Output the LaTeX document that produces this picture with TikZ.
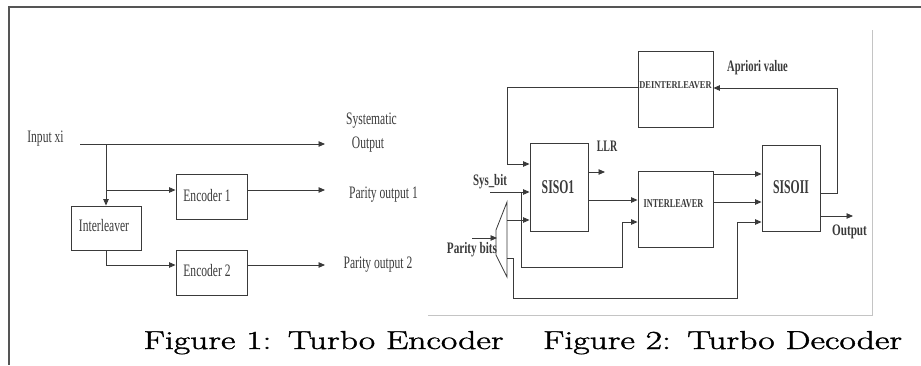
\documentclass[tikz,border=0pt]{standalone}
\usepackage{fontspec}
\usepackage{graphicx}
\usetikzlibrary{arrows.meta}
\newfontfamily\tnr{Liberation Serif}
\newfontfamily\capfont[FakeBold=1.3]{Latin Modern Roman}
\newcommand{\sx}[2]{\scalebox{#1}[1]{#2}}
\definecolor{ink}{HTML}{3A3A3A}
\definecolor{frame}{HTML}{555555}
\definecolor{lightframe}{HTML}{C4C4C4}
\tikzset{
  wire/.style={draw=ink, line width=0.9pt},
  arr/.style={wire, -{Triangle[length=6.5pt,width=5.5pt]}},
  blk/.style={draw=ink, line width=0.9pt, inner sep=0pt, rectangle},
  enctxt/.style={inner sep=0pt, text=ink, font=\tnr\fontsize{17.5}{19}\selectfont},
  dectxt/.style={inner sep=0pt, text=ink, font=\tnr\bfseries\fontsize{16}{18}\selectfont},
  captxt/.style={inner sep=0pt, text=black, font=\capfont\fontsize{26}{29}\selectfont, anchor=base}
}
\begin{document}
\begin{tikzpicture}[x=1pt,y=-1pt]
\useasboundingbox (0,0) rectangle (921,365);
% page frames
\draw[frame, line width=1.2pt] (921,7) -- (9,7) -- (9,365);
\draw[lightframe, line width=0.9pt] (872,30) -- (872,315) -- (428,315);

% ================= Encoder =================
\node[blk, minimum width=71pt, minimum height=45pt] (enc1) at (211.5,196.5) {};
\node[enctxt] (enc1t) at (207,196) {\sx{0.66}{Encoder 1}};
\node[blk, minimum width=70pt, minimum height=44pt] (ilv) at (106,228) {};
\node[enctxt] (ilvt) at (104,226) {\sx{0.66}{Interleaver}};
\node[blk, minimum width=71pt, minimum height=45pt] (enc2) at (211.5,272.5) {};
\node[enctxt] (enc2t) at (207,271) {\sx{0.66}{Encoder 2}};

\node[enctxt] (inp) at (45.5,139) {\sx{0.66}{Input xi}};
\node[enctxt] (sys1) at (371.5,121) {\sx{0.66}{Systematic}};
\node[enctxt] (sys2) at (368,145) {\sx{0.66}{Output}};
\node[enctxt] (par1) at (383.5,195) {\sx{0.66}{Parity output 1}};
\node[enctxt] (par2) at (378,265) {\sx{0.66}{Parity output 2}};

\coordinate (in0) at (80,144);
\coordinate (br) at (106,144);
\coordinate (br2) at (106,190);
\coordinate (sysend) at (325,144);
\coordinate (p1end) at (325,190);
\coordinate (p2end) at (325,265);
\coordinate (ilvdn) at (106,265);

\draw[arr] (in0) -- (sysend);
\draw[arr] (br) -- (ilv.north);
\draw[arr] (br2) -- (br2 -| enc1.west);
\draw[arr] (ilv.south) -- (ilvdn) -- (ilvdn -| enc2.west);
\draw[arr] (p1end -| enc1.east) -- (p1end);
\draw[arr] (p2end -| enc2.east) -- (p2end);

% ================= Decoder =================
\node[blk, minimum width=75pt, minimum height=76pt] (deint) at (675.5,89) {};
\node[dectxt, font=\tnr\bfseries\fontsize{10.5}{12}\selectfont] (deintt) at (675.5,85) {\sx{0.8}{DEINTERLEAVER}};
\node[blk, minimum width=58pt, minimum height=88pt] (siso1) at (559,187) {};
\node[dectxt, font=\tnr\bfseries\fontsize{19.5}{21}\selectfont] (siso1t) at (558,187) {\sx{0.6}{SISO1}};
\node[blk, minimum width=75pt, minimum height=76pt] (intl) at (675.5,209) {};
\node[dectxt, font=\tnr\bfseries\fontsize{12}{14}\selectfont] (intlt) at (673.5,204) {\sx{0.69}{INTERLEAVER}};
\node[blk, minimum width=58pt, minimum height=86pt] (siso2) at (791,188) {};
\node[dectxt, font=\tnr\bfseries\fontsize{19.5}{21}\selectfont] (siso2t) at (791,187) {\sx{0.6}{SISOII}};

\node[dectxt] (apr) at (757.5,68) {\sx{0.66}{Apriori value}};
\node[dectxt] (llr) at (607,146) {\sx{0.62}{LLR}};
\node[dectxt] (sysb) at (490,182) {\sx{0.68}{Sys\_bit}};
\node[dectxt] (parb) at (472,250) {\sx{0.7}{Parity bits}};
\node[dectxt] (outp) at (849.5,232) {\sx{0.7}{Output}};

% demultiplexer (trapezoid)
\draw[ink, line width=0.8pt] (507,202) -- (496,230) -- (496,255) -- (507,277) -- cycle;
\coordinate (dmA) at (507,220);
\coordinate (dmB) at (507,258);

% feedback SISOII -> DEINTERLEAVER
\coordinate (fb1) at (837,193);
\coordinate (fb2) at (837,88);
\draw[arr] (fb1 -| siso2.east) -- (fb1) -- (fb2) -- (fb2 -| deint.east);
% DEINTERLEAVER -> SISO1
\coordinate (dl1) at (507,87);
\coordinate (dl2) at (507,164);
\draw[arr] (dl1 -| deint.west) -- (dl1) -- (dl2) -- (dl2 -| siso1.west);
% LLR
\coordinate (llrend) at (605,172);
\draw[arr] (llrend -| siso1.east) -- (llrend);
% Sys_bit
\coordinate (sb0) at (490,192);
\draw[arr] (sb0) -- (sb0 -| siso1.west);
\coordinate (sbb) at (521,192);
\coordinate (sbc) at (521,267);
\coordinate (sbd) at (622,267);
\coordinate (sbe) at (622,222);
\draw[arr] (sbb) -- (sbc) -- (sbd) -- (sbe) -- (sbe -| intl.west);
% Parity bits input
\coordinate (pb0) at (472,238);
\coordinate (pb1) at (497,238);
\draw[arr] (pb0) -- (pb1);
% demux -> SISO1
\draw[arr] (dmA) -- (dmA -| siso1.west);
% demux -> SISOII
\coordinate (d2a) at (513,258);
\coordinate (d2b) at (513,298);
\coordinate (d2c) at (737,298);
\coordinate (d2d) at (737,222);
\draw[arr] (dmB) -- (d2a) -- (d2b) -- (d2c) -- (d2d) -- (d2d -| siso2.west);
% SISO1 -> INTERLEAVER
\coordinate (s1i) at (600,200);
\draw[arr] (s1i -| siso1.east) -- (s1i -| intl.west);
% INTERLEAVER -> SISOII
\coordinate (ia) at (740,174);
\coordinate (ib) at (740,202);
\draw[arr] (ia -| intl.east) -- (ia -| siso2.west);
\draw[arr] (ib -| intl.east) -- (ib -| siso2.west);
% Output
\coordinate (outend) at (853,216);
\draw[arr] (outend -| siso2.east) -- (outend);

% ================= Captions =================
\node[captxt] (cap1) at (323.5,349) {\sx{1.37}{Figure 1:\hspace{0.46em}Turbo Encoder}};
\node[captxt] (cap2) at (722.5,349) {\sx{1.37}{Figure 2:\hspace{0.46em}Turbo Decoder}};
\end{tikzpicture}
\end{document}
